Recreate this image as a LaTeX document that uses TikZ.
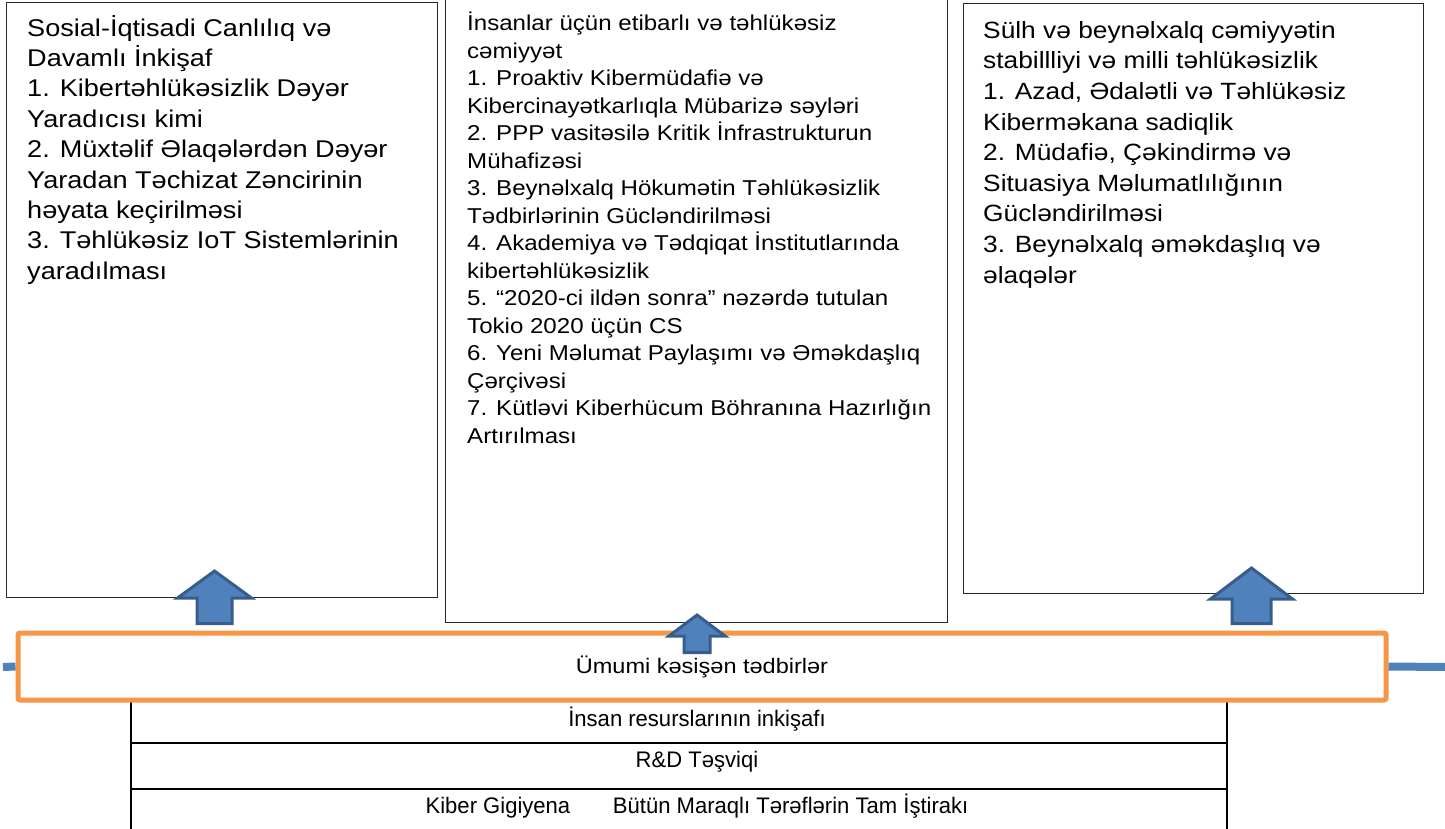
\documentclass[tikz,border=0pt]{standalone}
\usepackage{fontspec}
\setmainfont{Liberation Sans}[FakeStretch=1.12]
\newfontfamily\tablefont{Liberation Sans}[FakeStretch=0.98]

\definecolor{arrowblue}{HTML}{4F81BD}
\definecolor{arrowedge}{HTML}{385D8A}
\definecolor{crossorange}{HTML}{F79646}
\definecolor{linkblue}{HTML}{4F81BD}

% block arrow pointing up: #1 centre x, #2 tip y, #3 head base y,
% #4 head half-width, #5 shaft half-width, #6 bottom y
\newcommand{\blockup}[6]{%
  \draw[uparrow] (#1,#2) -- (#1+#4,#3) -- (#1+#5,#3) -- (#1+#5,#6)
    -- (#1-#5,#6) -- (#1-#5,#3) -- (#1-#4,#3) -- cycle;}

\begin{document}
\begin{tikzpicture}[x=1pt,y=-1pt,
  panel/.style={draw=black!85, line width=1.3pt, anchor=north west, inner sep=0pt},
  paneltext/.style={anchor=north west, inner sep=0pt, align=left},
  uparrow/.style={fill=arrowblue, draw=arrowedge, line width=3pt, line join=miter},
  crossbox/.style={draw=crossorange, line width=5pt, fill=white, rounded corners=2pt,
    minimum width=1368pt, minimum height=67pt, inner sep=0pt,
    font=\fontsize{21}{25}\selectfont},
  link/.style={draw=linkblue, line width=8pt},
  grid/.style={draw=black, line width=1.5pt},
  rowtext/.style={anchor=base, inner sep=0pt, font=\tablefont\fontsize{22.5}{26}\selectfont}]

\useasboundingbox (0,0) rectangle (1445,829);

% the three goal panels
\node[panel, minimum width=431pt, minimum height=595pt] (soc) at (6,2) {};
\node[panel, minimum width=502pt, minimum height=630pt] (safe) at (445,-8) {};
\node[panel, minimum width=460pt, minimum height=590pt] (peace) at (963,3) {};

\node[paneltext, font=\fontsize{24.2}{30.4}\selectfont] (soctext) at (27,15) {%
Sosial-İqtisadi Canlılıq və\\
Davamlı İnkişaf\\
1. Kibertəhlükəsizlik Dəyər\\
Yaradıcısı kimi\\
2. Müxtəlif Əlaqələrdən Dəyər\\
Yaradan Təchizat Zəncirinin\\
həyata keçirilməsi\\
3. Təhlükəsiz IoT Sistemlərinin\\
yaradılması};

\node[paneltext, font=\fontsize{21.5}{27.5}\selectfont] (safetext) at (467,12) {%
İnsanlar üçün etibarlı və təhlükəsiz\\
cəmiyyət\\
1. Proaktiv Kibermüdafiə və\\
Kibercinayətkarlıqla Mübarizə səyləri\\
2. PPP vasitəsilə Kritik İnfrastrukturun\\
Mühafizəsi\\
3. Beynəlxalq Hökumətin Təhlükəsizlik\\
Tədbirlərinin Gücləndirilməsi\\
4. Akademiya və Tədqiqat İnstitutlarında\\
kibertəhlükəsizlik\\
5. “2020-ci ildən sonra” nəzərdə tutulan\\
Tokio 2020 üçün CS\\
6. Yeni Məlumat Paylaşımı və Əməkdaşlıq\\
Çərçivəsi\\
7. Kütləvi Kiberhücum Böhranına Hazırlığın\\
Artırılması};

\node[paneltext, font=\fontsize{23.5}{30.6}\selectfont] (peacetext) at (983,21) {%
Sülh və beynəlxalq cəmiyyətin\\
stabillliyi və milli təhlükəsizlik\\
1. Azad, Ədalətli və Təhlükəsiz\\
Kibermәkana sadiqlik\\
2. Müdafiə, Çəkindirmə və\\
Situasiya Məlumatlılığının\\
Gücləndirilməsi\\
3. Beynəlxalq əməkdaşlıq və\\
əlaqələr};

% table of supporting measures
\draw[grid] (131,700) -- (131,835);
\draw[grid] (1227,700) -- (1227,835);
\draw[grid] (131,743) -- (1227,743);
\draw[grid] (131,789) -- (1227,789);
\node[rowtext] (hr) at (697,726) {İnsan resurslarının inkişafı};
\node[rowtext] (rd) at (697,767) {R\&D Təşviqi};
\node[rowtext] (hyg) at (697,813) {Kiber Gigiyena\hspace{1.9em}Bütün Maraqlı Tərəflərin Tam İştirakı};

% cross-cutting band with its side links
\coordinate (lend) at (3,667);
\coordinate (rend) at (1445,667);
\node[crossbox] (cross) at (702,666.5) {Ümumi kəsişən tədbirlər};
\draw[link] (cross.west) -- (lend);
\draw[link] (cross.east) -- (rend);

% block arrows rising into the panels
\blockup{214.5}{571}{598}{37}{17.5}{623.5}
\blockup{697}{615}{636}{28}{13}{652.5}
\blockup{1251.5}{568}{599}{41}{19.5}{623.5}

\end{tikzpicture}
\end{document}
